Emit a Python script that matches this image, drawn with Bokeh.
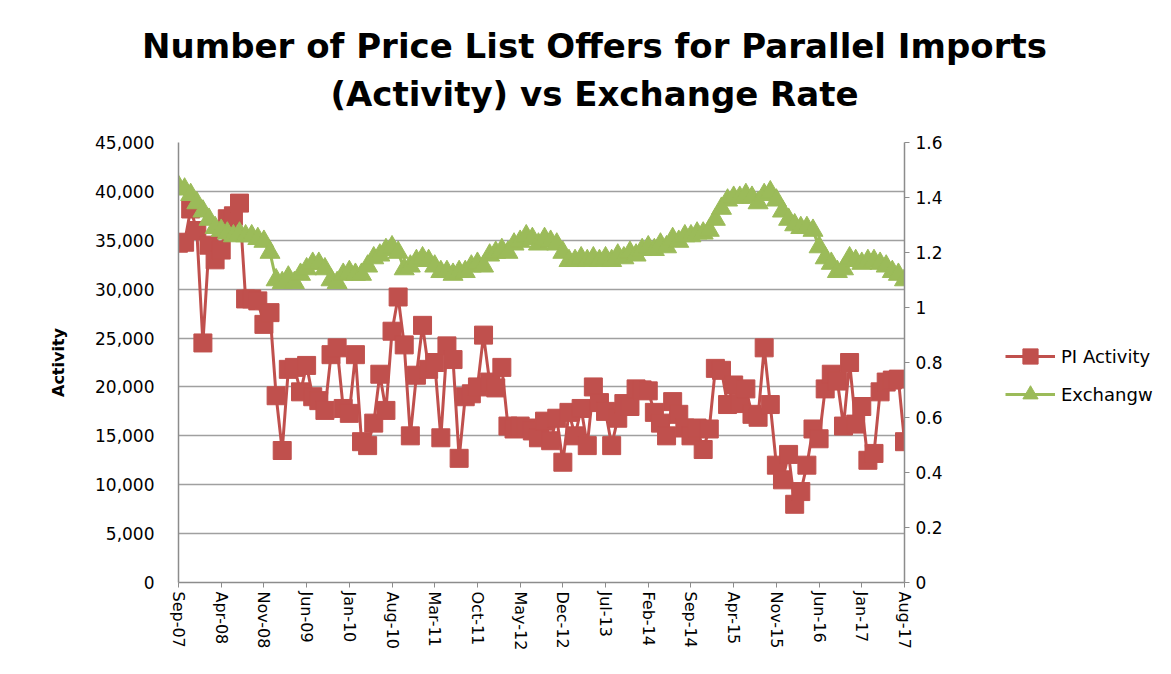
from bokeh.plotting import figure
from bokeh.layouts import column, row
from bokeh.models import (Range1d, LinearAxis, FixedTicker, NumeralTickFormatter,
                          Legend, LegendItem, Label)
from bokeh.embed import file_html
from bokeh.resources import INLINE

title_line1 = "Number of Price List Offers for Parallel Imports"
title_line2 = "(Activity) vs Exchange Rate"

tick_labels = ["Sep-07", "Apr-08", "Nov-08", "Jun-09", "Jan-10", "Aug-10", "Mar-11",
               "Oct-11", "May-12", "Dec-12", "Jul-13", "Feb-14", "Sep-14", "Apr-15",
               "Nov-15", "Jun-16", "Jan-17", "Aug-17"]
tick_step = 7

pi_activity = [
    34700, 34800, 38200, 36000, 24500, 34500, 33000, 34000, 37200, 37500,
    38800, 29000, 29000, 28800, 26400, 27600, 19100, 13500, 21800, 22000,
    19500, 22200, 19000, 18600, 17600, 23300, 24000, 17800, 17300, 23300,
    14400, 14000, 16300, 21300, 17600, 25700, 29200, 24300, 15000, 21200,
    26300, 21800, 22500, 14800, 24200, 22800, 12700, 19000, 19300, 20000,
    25300, 20500, 19900, 22000, 16000, 15700, 16000, 15800, 15500, 14800,
    16500, 14500, 16800, 12300, 17400, 15000, 17800, 14000, 20000, 18400,
    17500, 14000, 16800, 18300, 18000, 19800, 19700, 19600, 17400, 16300,
    15000, 18500, 17200, 15800, 15000, 15800, 13600, 15700, 21900, 21700,
    18200, 20200, 18300, 19800, 17200, 16900, 24000, 18200, 12000, 10500,
    13100, 8000, 9300, 12000, 15700, 14700, 19800, 21300, 20600, 16000,
    22500, 16200, 18000, 12500, 13200, 19500, 20500, 20700, 20800, 14400,
]

exchange_rate = [
    1.44, 1.43, 1.41, 1.38, 1.35, 1.32, 1.29, 1.28, 1.27, 1.26,
    1.27, 1.26, 1.26, 1.25, 1.24, 1.20, 1.10, 1.09, 1.11, 1.09,
    1.12, 1.14, 1.16, 1.16, 1.14, 1.10, 1.09, 1.12, 1.13, 1.12,
    1.12, 1.15, 1.18, 1.19, 1.21, 1.22, 1.20, 1.14, 1.15, 1.17,
    1.18, 1.17, 1.15, 1.13, 1.13, 1.12, 1.13, 1.13, 1.15, 1.16,
    1.15, 1.19, 1.20, 1.21, 1.20, 1.23, 1.24, 1.26, 1.25, 1.23,
    1.25, 1.24, 1.23, 1.20, 1.17, 1.17, 1.18, 1.17, 1.18, 1.17,
    1.18, 1.17, 1.19, 1.18, 1.20, 1.19, 1.21, 1.22, 1.21, 1.23,
    1.22, 1.25, 1.24, 1.26, 1.26, 1.27, 1.27, 1.28, 1.32, 1.36,
    1.39, 1.40, 1.40, 1.41, 1.40, 1.38, 1.41, 1.42, 1.39, 1.35,
    1.32, 1.30, 1.29, 1.29, 1.28, 1.22, 1.18, 1.16, 1.13, 1.14,
    1.18, 1.17, 1.16, 1.17, 1.17, 1.16, 1.15, 1.13, 1.12, 1.10,
]

series_names = ["PI Activity", "Exchangw"]

months = list(range(len(pi_activity)))
tick_pos = [i * tick_step for i in range(len(tick_labels))]

RED = "#C0504D"
GREEN = "#9BBB59"
AXIS_FONT = "DejaVu Sans"
TITLE_FONT = "DejaVu Sans"

# ---------- title strip ----------
tfig = figure(width=1163, height=120, output_backend="svg", toolbar_location=None,
              x_axis_location=None, y_axis_location=None,
              x_range=Range1d(0, 1), y_range=Range1d(0, 1),
              min_border=0, outline_line_color=None)
tfig.grid.visible = False
for txt, ypix in [(title_line1, 75), (title_line2, 27)]:
    tfig.add_layout(Label(x=594, y=ypix, x_units="screen", y_units="screen", text=txt,
                          text_font=TITLE_FONT, text_font_size="34px",
                          text_font_style="bold", text_color="black",
                          text_align="center", text_baseline="middle"))

# ---------- main chart ----------
p = figure(width=955, height=540, output_backend="svg", toolbar_location=None,
           x_range=Range1d(0, len(pi_activity) - 1), y_range=Range1d(0, 45000),
           min_border_left=178, min_border_right=51, min_border_top=22,
           min_border_bottom=78)
p.outline_line_color = None
p.background_fill_color = "white"
p.border_fill_color = "white"

p.extra_y_ranges = {"fx": Range1d(0, 1.6)}

p.xgrid.grid_line_color = None
p.ygrid.grid_line_color = "#A0A0A0"
p.ygrid.grid_line_width = 1.5
p.ygrid.ticker = FixedTicker(ticks=list(range(0, 45001, 5000)))

ly = p.yaxis[0]
ly.ticker = FixedTicker(ticks=list(range(0, 45001, 5000)))
ly.formatter = NumeralTickFormatter(format="0,0")
ly.axis_line_color = "#8C8C8C"
ly.axis_line_width = 1.5
ly.major_tick_out = 0
ly.major_tick_in = 0
ly.minor_tick_out = 0
ly.minor_tick_in = 0
ly.major_label_standoff = 24
ly.major_label_text_font = AXIS_FONT
ly.major_label_text_font_size = "17px"
ly.major_label_text_color = "black"
ly.axis_label = "Activity"
ly.axis_label_text_font = AXIS_FONT
ly.axis_label_text_font_size = "16px"
ly.axis_label_text_font_style = "bold"
ly.axis_label_text_color = "black"
ly.axis_label_standoff = 24

bx = p.xaxis[0]
bx.ticker = FixedTicker(ticks=tick_pos)
bx.major_label_overrides = {t: lab for t, lab in zip(tick_pos, tick_labels)}
bx.major_label_orientation = "vertical"
bx.axis_line_color = "#8C8C8C"
bx.axis_line_width = 1.5
bx.major_tick_out = 5
bx.major_tick_in = 0
bx.major_tick_line_color = "#8C8C8C"
bx.minor_tick_out = 0
bx.minor_tick_in = 0
bx.major_label_standoff = 4
bx.major_label_text_font = AXIS_FONT
bx.major_label_text_font_size = "16px"
bx.major_label_text_color = "black"

fx_ticks = [0, 0.2, 0.4, 0.6, 0.8, 1.0, 1.2, 1.4, 1.6]
fx_labels = ["0", "0.2", "0.4", "0.6", "0.8", "1", "1.2", "1.4", "1.6"]
ry = LinearAxis(y_range_name="fx", ticker=FixedTicker(ticks=fx_ticks))
ry.major_label_overrides = {t: s for t, s in zip(fx_ticks, fx_labels)}
ry.axis_line_color = "#8C8C8C"
ry.axis_line_width = 1.5
ry.major_tick_out = 5
ry.major_tick_in = 0
ry.major_tick_line_color = "#8C8C8C"
ry.minor_tick_out = 0
ry.minor_tick_in = 0
ry.major_label_standoff = 6
ry.major_label_text_font = AXIS_FONT
ry.major_label_text_font_size = "17px"
ry.major_label_text_color = "black"
p.add_layout(ry, "right")

p.line(months, pi_activity, line_color=RED, line_width=3)
p.scatter(months, pi_activity, marker="square", size=18, fill_color=RED, line_color=RED)
p.line(months, exchange_rate, line_color=GREEN, line_width=3, y_range_name="fx")
p.scatter(months, exchange_rate, marker="triangle", size=20,
          fill_color=GREEN, line_color=GREEN, y_range_name="fx")

# ---------- legend strip (same series, drawn outside this strip's view) ----------
lfig = figure(width=208, height=540, output_backend="svg", toolbar_location=None,
              x_axis_location=None, y_axis_location=None,
              x_range=Range1d(-3, -2), y_range=Range1d(-3, -2),
              min_border=0, outline_line_color=None)
lfig.grid.visible = False
kl1 = lfig.line(months, pi_activity, line_color=RED, line_width=3)
km1 = lfig.scatter(months, pi_activity, marker="square", size=18,
                   fill_color=RED, line_color=RED)
kl2 = lfig.line(months, exchange_rate, line_color=GREEN, line_width=3)
km2 = lfig.scatter(months, exchange_rate, marker="triangle", size=20,
                   fill_color=GREEN, line_color=GREEN)
legend = Legend(items=[LegendItem(label=series_names[0], renderers=[kl1, km1]),
                       LegendItem(label=series_names[1], renderers=[kl2, km2])],
                location=(50, 169), orientation="vertical",
                glyph_width=50, glyph_height=38, label_height=20, spacing=0,
                padding=0, margin=0, label_standoff=6,
                label_text_font=AXIS_FONT, label_text_font_size="18px",
                label_text_color="black",
                background_fill_alpha=0, border_line_alpha=0)
lfig.add_layout(legend, "center")

layout = column(tfig, row(p, lfig))

with open("out.html", "w") as f:
    f.write(file_html(layout, INLINE))
